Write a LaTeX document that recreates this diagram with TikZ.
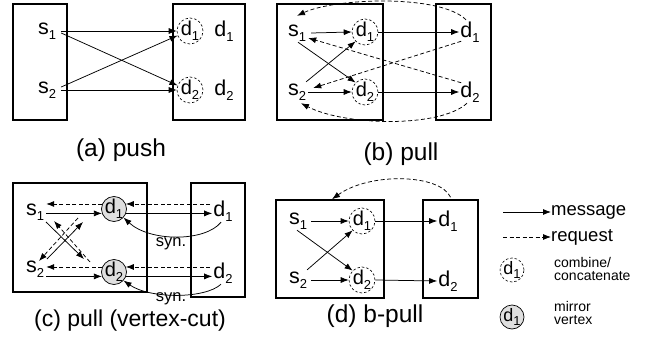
\documentclass[tikz,border=0pt]{standalone}
\usepackage{fontspec}
\setmainfont{Liberation Sans}
\usetikzlibrary{arrows.meta,fit,calc}
\newcommand\sbx[2]{#1\raisebox{-4.5pt}{\fontsize{13}{13}\selectfont #2}}
\begin{document}
\begin{tikzpicture}[x=1pt,y=-1pt,
  lbl/.style={inner sep=1pt,font=\fontsize{21.5}{21.5}\selectfont},
  comb/.style={circle,draw,dash pattern=on 2.5pt off 2pt,line width=0.6pt,minimum size=26pt,inner sep=-2pt,font=\fontsize{20}{20}\selectfont},
  mirr/.style={circle,draw,fill=gray!25,line width=0.7pt,minimum size=25pt,inner sep=-2pt,font=\fontsize{20}{20}\selectfont},
  panelbox/.style={draw,line width=1.6pt,inner sep=0pt},
  msg/.style={-{Latex[length=8pt,width=6pt]},line width=0.75pt},
  req/.style={msg,dash pattern=on 4pt off 2.5pt},
  captxt/.style={anchor=base,inner sep=0pt,font=\fontsize{24.5}{24.5}\selectfont},
  syn/.style={inner sep=0pt,font=\fontsize{16.5}{16.5}\selectfont},
  legt/.style={anchor=west,inner sep=0pt,font=\fontsize{18.5}{18.5}\selectfont},
  legs/.style={anchor=west,inner sep=0pt,align=left,font=\fontsize{14}{13.5}\selectfont}]
\useasboundingbox (0,0) rectangle (655,342);

% ---------------- (a) push
\node[panelbox,fit={(13,4) (67,120)}] (aL) {};
\node[panelbox,fit={(173,4) (245,120)}] (aR) {};
\node[lbl] (as1) at (47,31) {\sbx{s}{1}};
\node[lbl] (as2) at (47,90) {\sbx{s}{2}};
\node[comb] (ac1) at (190,31) {\sbx{d}{1}};
\node[comb] (ac2) at (190,90) {\sbx{d}{2}};
\node[lbl] (ad1) at (224,31) {\sbx{d}{1}};
\node[lbl] (ad2) at (224,90) {\sbx{d}{2}};
\draw[msg] ([xshift=4pt]as1.east) -- (ac1.west);
\draw[msg] ([xshift=4pt,yshift=-2pt]as1.east) -- (ac2.160);
\draw[msg] ([xshift=4pt,yshift=3pt]as2.east) -- (ac1.200);
\draw[msg] ([xshift=4pt]as2.east) -- (ac2.west);
\node[captxt] (acap) at (121,156) {(a) push};

% ---------------- (b) pull
\node[panelbox,fit={(277,4) (383,120)}] (bL) {};
\node[panelbox,fit={(436,4) (491,120)}] (bR) {};
\node[lbl] (bs1) at (297,33) {\sbx{s}{1}};
\node[lbl] (bs2) at (297,92) {\sbx{s}{2}};
\node[comb] (bc1) at (365,32) {\sbx{d}{1}};
\node[comb] (bc2) at (365,92) {\sbx{d}{2}};
\node[lbl] (bd1) at (470,32) {\sbx{d}{1}};
\node[lbl] (bd2) at (470,92) {\sbx{d}{2}};
\draw[msg] ([xshift=4pt]bs1.east) -- (bc1.west);
\draw[msg] ([xshift=1pt]bs2.east) -- (bc2.west);
\draw[msg] ([xshift=1pt]bs1.south) -- (bc2.135);
\draw[msg] ([xshift=-1pt,yshift=1pt]bs2.north east) -- (bc1.225);
\draw[msg] (bc1.east) -- (bd1.west);
\draw[msg] (bc2.east) -- (bd2.west);
\draw[req] ([xshift=-4pt,yshift=1pt]bd1.north) .. controls (440,-6) and (335,-2) .. ([yshift=8pt]bs1.north);
\draw[req] ([xshift=2pt,yshift=2pt]bd1.south west) -- ([xshift=6pt,yshift=4pt]bs2.east);
\draw[req] ([xshift=2pt,yshift=-2pt]bd2.north west) -- ([xshift=1pt,yshift=-5pt]bs1.east);
\draw[req] ([xshift=-3pt]bd2.south) .. controls (440,128) and (345,126) .. ([xshift=4pt,yshift=-2pt]bs2.south);
\node[captxt] (bcap) at (401,160) {(b) pull};

% ---------------- (c) pull (vertex-cut)
\node[panelbox,fit={(13,183) (147,292)}] (cL) {};
\node[panelbox,fit={(191,183) (245,297)}] (cR) {};
\node[lbl] (cs1) at (35,212) {\sbx{s}{1}};
\node[lbl] (cs2) at (35,269) {\sbx{s}{2}};
\node[mirr] (cm1) at (114,209) {\sbx{d}{1}};
\node[mirr] (cm2) at (114,272) {\sbx{d}{2}};
\node[lbl] (cd1) at (223,211) {\sbx{d}{1}};
\node[lbl] (cd2) at (223,273) {\sbx{d}{2}};
\draw[req] (cm1.157) -- ([xshift=1pt]cm1.157 -| cs1.east);
\draw[msg] ([xshift=1pt]cm1.200 -| cs1.east) -- (cm1.200);
\draw[req] ([xshift=-2pt]cm1.23 -| cd1.west) -- (cm1.23);
\draw[msg] (cm1.-20) -- (cm1.-20 -| cd1.west);
\draw[msg] ([xshift=-2pt]cd1.south) .. controls (205,242) and (150,242) .. (cm1.-42);
\node[syn] (csyn1) at (171,244) {syn.};
\draw[req] (cm2.157) -- ([xshift=1pt]cm2.157 -| cs2.east);
\draw[msg] ([xshift=1pt]cm2.200 -| cs2.east) -- (cm2.200);
\draw[req] ([xshift=-2pt]cm2.23 -| cd2.west) -- (cm2.23);
\draw[msg] (cm2.-20) -- (cm2.-20 -| cd2.west);
\draw[msg] ([xshift=-2pt]cd2.south) .. controls (205,299) and (150,299) .. (cm2.-42);
\node[syn] (csyn2) at (171,299) {syn.};
% crossing arrows
\coordinate (cx1) at (46,222);
\coordinate (cx2) at (84,259);
\coordinate (cx3) at (90,262);
\coordinate (cx4) at (54,221);
\coordinate (cx5) at (47,259);
\coordinate (cx6) at (83,222);
\coordinate (cx7) at (78,218);
\coordinate (cx8) at (39,261);
\draw[msg] (cx1) -- (cx2);
\draw[req] (cx3) -- (cx4);
\draw[msg] (cx5) -- (cx6);
\draw[req] (cx7) -- (cx8);
\node[captxt,font=\fontsize{23}{23}\selectfont] (ccap) at (130,326) {(c) pull (vertex-cut)};

% ---------------- (d) b-pull
\node[panelbox,fit={(276,200) (384,298)}] (dL) {};
\node[panelbox,fit={(423,200) (478,298)}] (dR) {};
\node[lbl] (ds1) at (298,221) {\sbx{s}{1}};
\node[lbl] (ds2) at (298,280) {\sbx{s}{2}};
\node[comb] (dc1) at (362,221) {\sbx{d}{1}};
\node[comb] (dc2) at (362,280) {\sbx{d}{2}};
\node[lbl] (dd1) at (448,221) {\sbx{d}{1}};
\node[lbl] (dd2) at (448,281) {\sbx{d}{2}};
\draw[msg] ([xshift=3pt]ds1.east) -- (dc1.west);
\draw[msg] ([xshift=3pt]ds2.east) -- (dc2.west);
\draw[msg] ([xshift=-1pt]ds1.south) -- (dc2.135);
\draw[msg] ([xshift=-1pt,yshift=1pt]ds2.north east) -- (dc1.225);
\draw[msg] (dc1.east) -- (dd1.west);
\draw[msg] (dc2.east) -- (dd2.west);
\draw[req] ([yshift=2pt]dR.north) .. controls (440,174) and (370,172) .. ([xshift=2pt]dL.north);
\node[captxt] (dcap) at (375,322) {(d) b-pull};

% ---------------- legend
\coordinate (lm) at (503,212);
\node[legt] (lmt) at (551,212) {message};
\draw[msg] (lm) -- (lmt.west);
\coordinate (lr) at (503,237);
\node[legt] (lrt) at (551,237) {request};
\draw[req] (lr) -- (lrt.west);
\node[comb,minimum size=24pt,font=\fontsize{18}{18}\selectfont] (lc) at (512,270) {\sbx{d}{1}};
\node[legs] (lct) at (554,269) {combine/\\concatenate};
\node[mirr,minimum size=24pt,font=\fontsize{18}{18}\selectfont] (lmv) at (512,317) {\sbx{d}{1}};
\node[legs] (lmvt) at (554,313) {mirror\\vertex};
\end{tikzpicture}
\end{document}
